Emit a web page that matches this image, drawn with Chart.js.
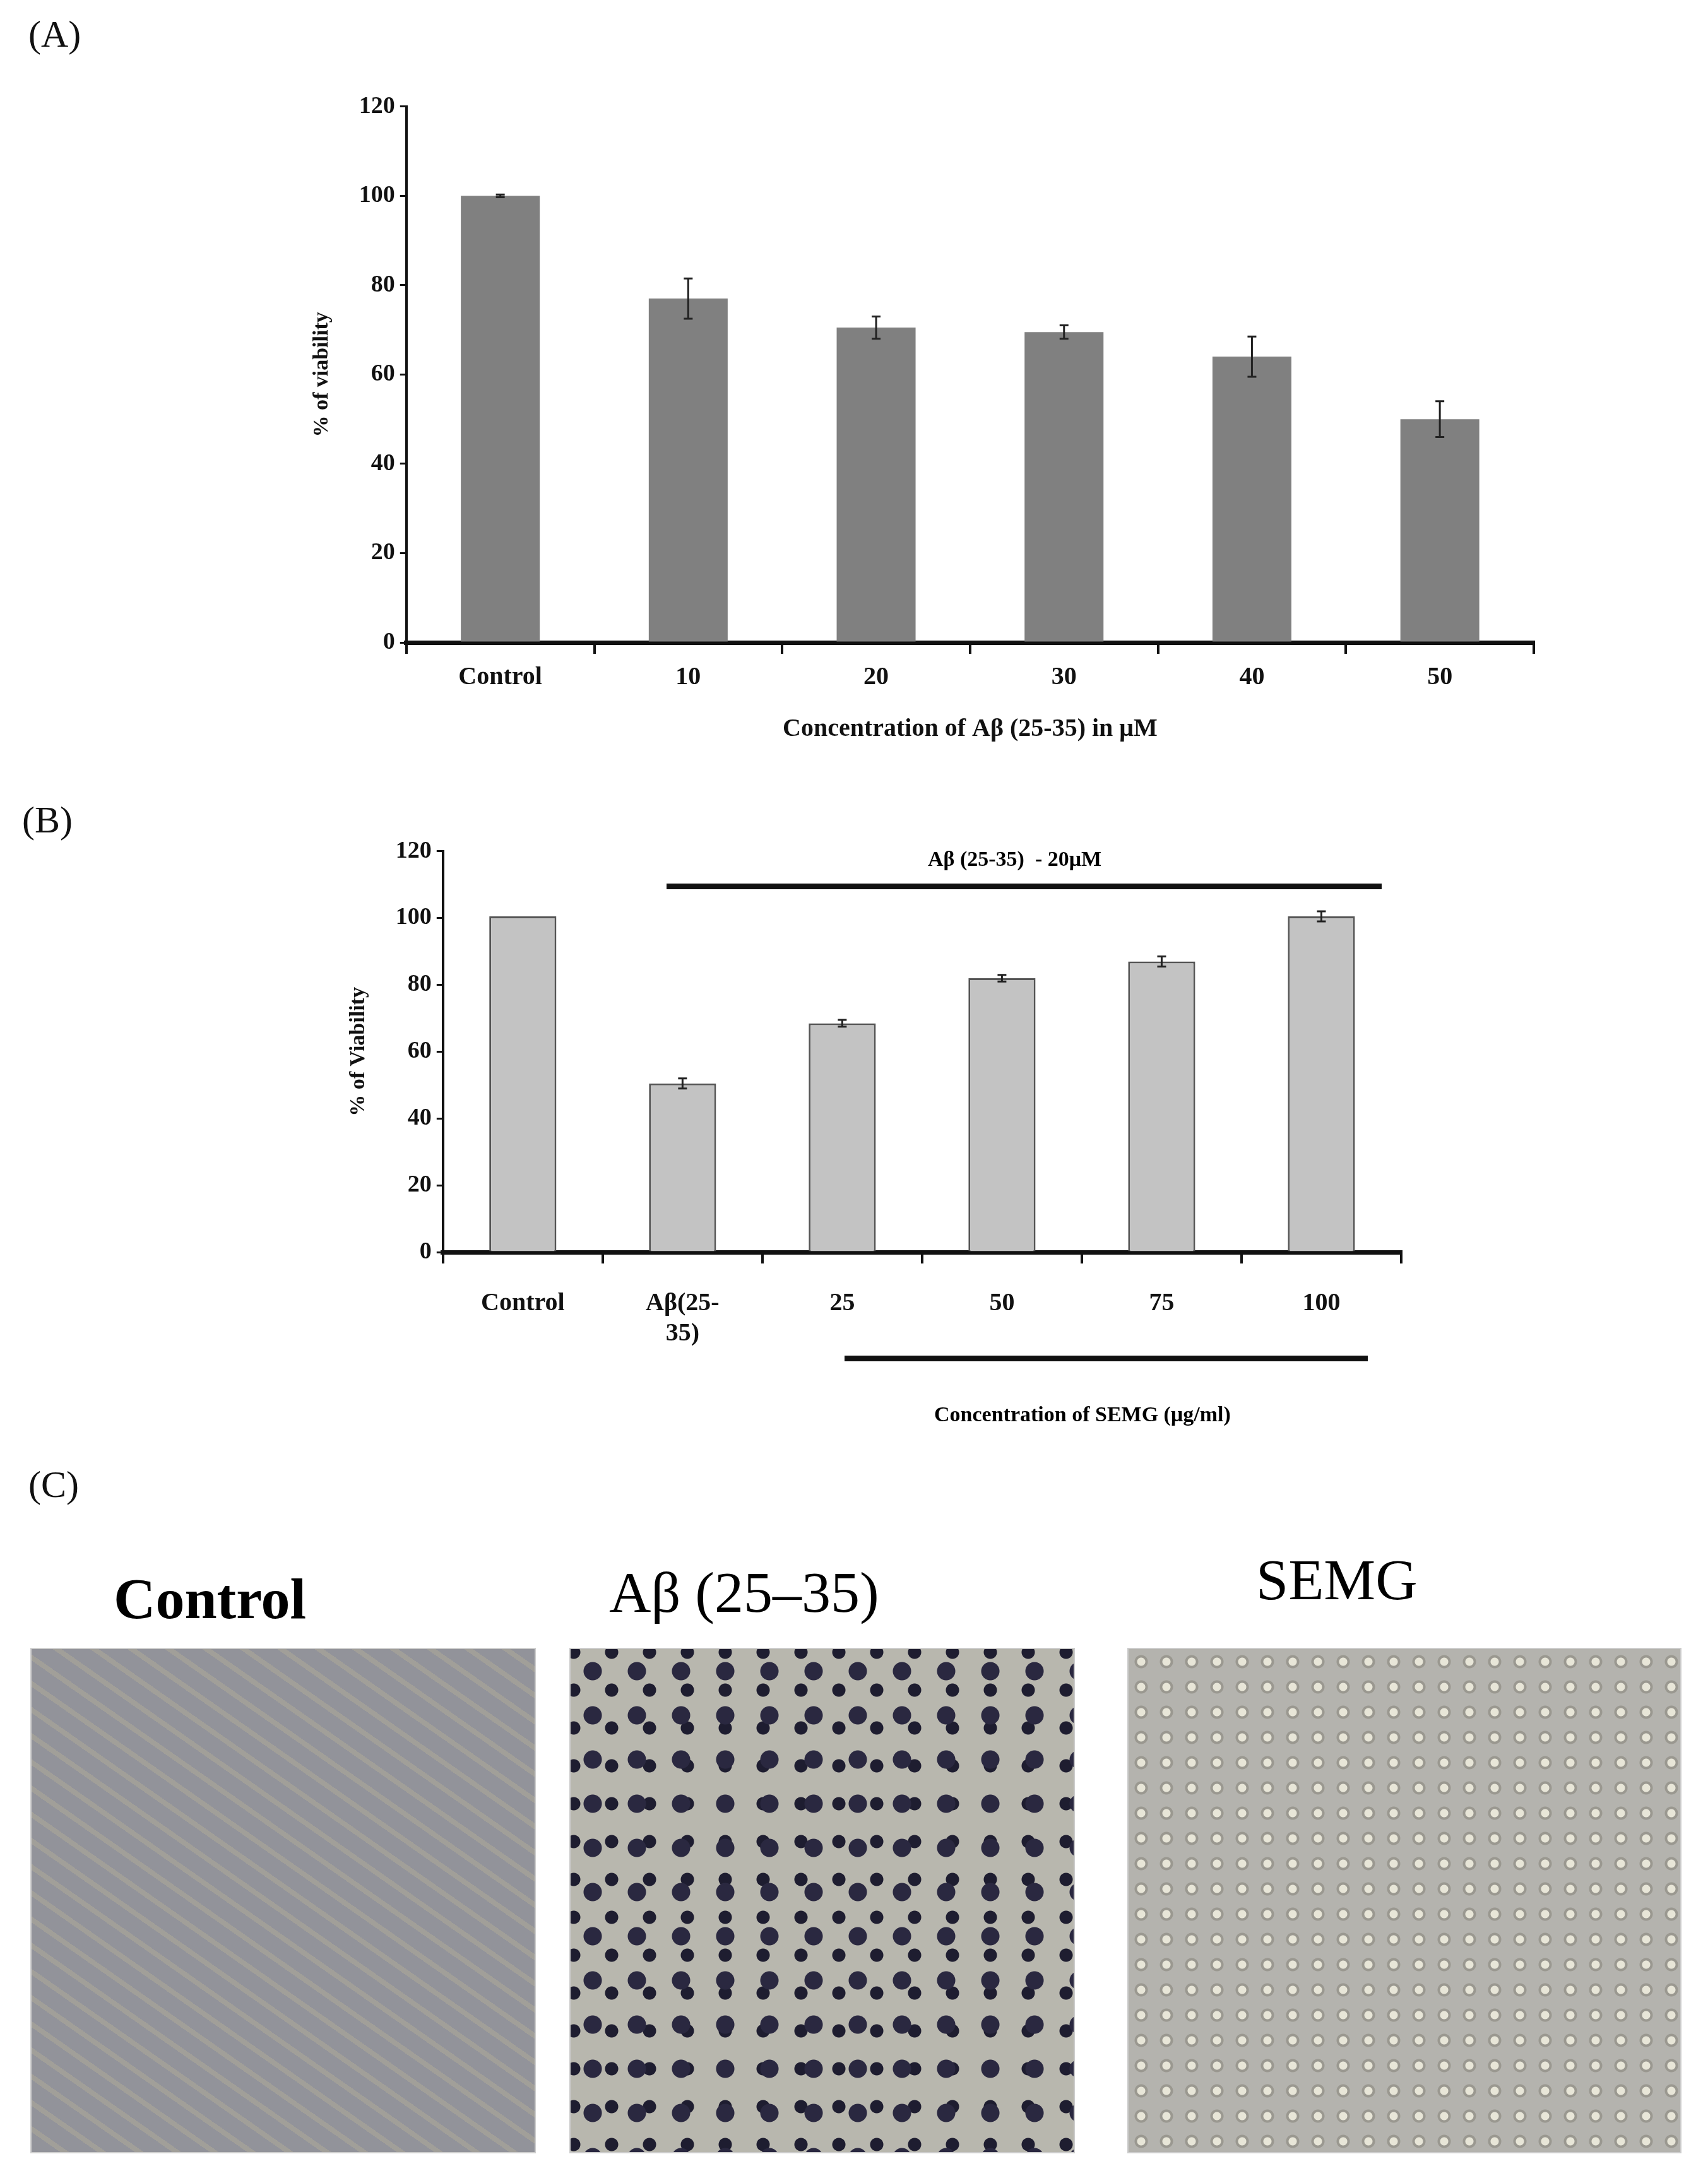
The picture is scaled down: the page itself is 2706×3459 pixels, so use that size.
<!DOCTYPE html>
<html><head><meta charset="utf-8">
<script src="https://cdn.jsdelivr.net/npm/chart.js@4.4.0/dist/chart.umd.min.js"></script>
<style>
body{margin:0;background:#fff;width:2706px;height:3459px;position:relative;font-family:"Liberation Serif",serif;}
.abs{position:absolute;}
.lbl{font-size:60px;color:#111;}
.bar{background:#111;height:9px;}
.ph{border:2px solid #ccc;}
</style></head><body>
<div class="abs lbl" style="left:45px;top:20px">(A)</div>
<div class="abs lbl" style="left:35px;top:1265px">(B)</div>
<div class="abs lbl" style="left:45px;top:2318px">(C)</div>
<div class="abs" style="left:466px;top:138px;width:2034px;height:1056px"><canvas id="cA"></canvas></div>
<div class="abs" style="left:524px;top:1318px;width:1816px;height:1000px"><canvas id="cB"></canvas></div>
<div class="abs" style="left:1056px;top:1400px;width:1133px;" ><div class="bar"></div></div>
<div class="abs" style="left:1470px;top:1342px;font-weight:bold;font-size:34px">Aβ (25-35)&nbsp; - 20μM</div>
<div class="abs" style="left:1338px;top:2148px;width:829px;"><div class="bar"></div></div>
<div class="abs" style="left:1480px;top:2222px;font-weight:bold;font-size:34px">Concentration of SEMG (μg/ml)</div>

<div class="abs" style="left:180px;top:2480px;font-weight:bold;font-size:92px">Control</div>
<div class="abs" style="left:965px;top:2470px;font-size:92px">Aβ (25–35)</div>
<div class="abs" style="left:1990px;top:2450px;font-size:92px">SEMG</div>
<div class="abs ph" style="left:48px;top:2611px;width:797px;height:797px;background:repeating-linear-gradient(35deg,#8d8e95 0 26px,#9c9a94 26px 34px),#8d8e95;opacity:0.95"></div>
<div class="abs ph" style="left:902px;top:2611px;width:797px;height:797px;background:radial-gradient(circle,#2a2840 0 14px,transparent 15px) 0 0/70px 70px,radial-gradient(circle,#1e1d30 0 10px,transparent 11px) 35px 35px/60px 60px,#b8b7ae"></div>
<div class="abs ph" style="left:1786px;top:2611px;width:874px;height:797px;background:radial-gradient(circle,#e8e6d8 0 6px,#9a9890 7px 10px,transparent 11px) 0 0/40px 40px,#b4b3ae"></div>
<script>
// Panel A
const catsA = ['Control', '10', '20', '30', '40', '50'];
const valsA = [100, 77, 70.5, 69.5, 64, 50];
const errA = [0.3, 4.5, 2.5, 1.5, 4.5, 4];
// Panel B
const catsB = ['Control', ['Aβ(25-', '35)'], '25', '50', '75', '100'];
const valsB = [100.5, 50.5, 68.5, 82, 87, 100.5];
const errB = [0, 1.5, 1, 1, 1.5, 1.5];
const yTicks = [0, 20, 40, 60, 80, 100, 120];

const font = (s) => ({ family: 'Liberation Serif', size: s, weight: 'bold' });

const errorBars = {
  id: 'errorBars',
  afterDatasetsDraw(chart, args, opts) {
    const { ctx } = chart;
    const meta = chart.getDatasetMeta(0);
    const y = chart.scales.y;
    ctx.save();
    ctx.strokeStyle = '#222';
    ctx.lineWidth = 3;
    meta.data.forEach((bar, i) => {
      const e = opts.errors[i];
      if (!e) return;
      const v = chart.data.datasets[0].data[i];
      const top = y.getPixelForValue(v + e), bot = y.getPixelForValue(v - e);
      ctx.beginPath();
      ctx.moveTo(bar.x, top); ctx.lineTo(bar.x, bot);
      ctx.moveTo(bar.x - 7, top); ctx.lineTo(bar.x + 7, top);
      ctx.moveTo(bar.x - 7, bot); ctx.lineTo(bar.x + 7, bot);
      ctx.stroke();
    });
    ctx.restore();
  }
};

function makeChart(id, cats, vals, errs, fill, border, yTitle, xTitle, pad, tickPad) {
  return new Chart(document.getElementById(id), {
    type: 'bar',
    data: { labels: cats, datasets: [{ data: vals, backgroundColor: fill, borderColor: border, borderWidth: border ? 3 : 0, barPercentage: 0.42, categoryPercentage: 1 }] },
    options: {
      responsive: true, maintainAspectRatio: false, animation: false,
      layout: { padding: pad },
      plugins: { legend: { display: false }, tooltip: { enabled: false }, errorBars: { errors: errs } },
      scales: {
        x: {
          grid: { offset: true, drawOnChartArea: false, color: '#111', lineWidth: 4, tickLength: 18, tickColor: '#111' },
          border: { color: '#111', width: 7 },
          ticks: { color: '#111', font: font(40), maxRotation: 0, padding: tickPad },
          title: { display: !!xTitle, text: xTitle, color: '#111', font: font(40), padding: { top: 20 } }
        },
        y: {
          min: 0, max: 120,
          afterBuildTicks: (ax) => { ax.ticks = yTicks.map(v => ({ value: v })); },
          grid: { drawOnChartArea: false, color: '#111', lineWidth: 3, tickLength: 10 },
          border: { color: '#111', width: 4 },
          ticks: { color: '#111', font: font(38), padding: 8 },
          title: { display: true, text: yTitle, color: '#111', font: font(34), padding: { bottom: 30 } }
        }
      }
    },
    plugins: [errorBars]
  });
}
makeChart('cA', catsA, valsA, errA, '#808080', null, '% of viability', 'Concentration of Aβ (25-35) in μM', { left: 20, right: 70, top: 25, bottom: 10 }, 14);
makeChart('cB', catsB, valsB, errB, '#c3c3c3', '#555', '% of Viability', '', { left: 20, right: 120, top: 22, bottom: 140 }, 40);
</script>
</body></html>
